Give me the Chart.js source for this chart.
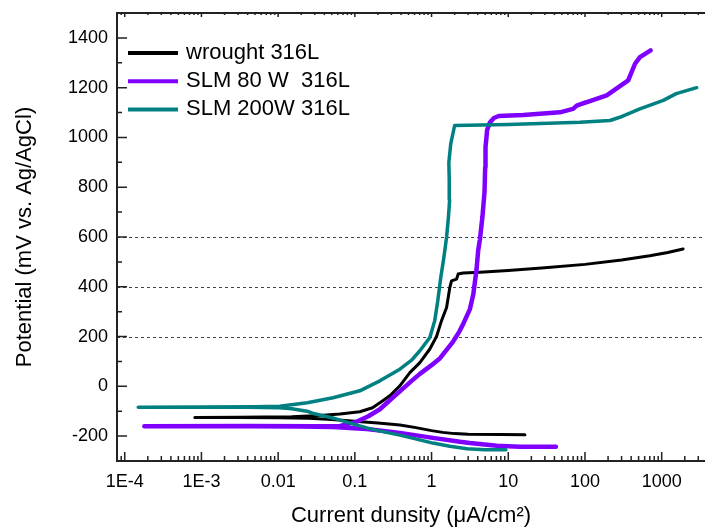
<!DOCTYPE html>
<html>
<head>
<meta charset="utf-8">
<script src="https://cdn.jsdelivr.net/npm/chart.js@4.4.1/dist/chart.umd.min.js"></script>
<style>
  html, body { margin: 0; padding: 0; background: #fff; }
  #wrap { width: 705px; height: 531px; }
</style>
</head>
<body>
<div id="wrap"><canvas id="chart" width="705" height="531"></canvas></div>
<script>
/* ── Data (current density µA/cm², potential mV) ───────────────────────── */
const WROUGHT_I = [16.5, 8, 3, 2, 1.4, 1.0, 0.6, 0.386, 0.2, 0.1, 0.05, 0.025, 0.01, 0.003, 8.2e-4,
                   0.003, 0.015, 0.035, 0.064, 0.116, 0.17, 0.212, 0.286, 0.386, 0.521, 0.704, 0.95,
                   1.16, 1.35, 1.57, 1.73, 1.82, 2.12, 2.22, 2.58, 4.27, 10, 30, 100, 300, 700, 1200, 1900];
const WROUGHT_E = [-195, -194, -193, -190, -185, -178, -165, -155, -147, -140, -133, -128, -126, -125, -125,
                   -124, -122, -117, -111, -102, -86, -66, -38, 2, 55, 95, 150,
                   200, 264, 317, 397, 424, 431, 451, 455, 458, 465, 476, 490, 508, 525, 538, 552];

const SLM80_I = [41.8, 14.2, 7.1, 3.16, 2.34, 1.04, 0.386, 0.143, 0.052, 0.019, 0.0043, 1.8e-4,
                 0.004, 0.03, 0.064, 0.1, 0.15, 0.212, 0.3, 0.386, 0.55, 0.704, 1.0, 1.29, 1.91, 2.3,
                 2.58, 3.16, 3.5, 3.86, 4.05, 4.27, 4.6, 4.9, 5.0, 5.05, 5.3, 5.76, 6.5, 7.5, 15.7, 47, 70,
                 78, 100, 88, 95, 192, 366, 449, 521, 718];
const SLM80_E = [-243, -243, -239, -228, -223, -207, -187, -171, -163, -161, -160, -160,
                 -159, -160, -159, -145, -120, -92, -50, -20, 22, 50, 85, 113, 180, 220,
                 250, 310, 370, 470, 545, 590, 680, 780, 880, 960, 1030, 1060, 1078, 1086, 1090, 1101, 1115,
                 1128, 1140, 1134, 1137, 1169, 1229, 1296, 1323, 1350];

const SLM200_I = [9.3, 5, 2.9, 1.73, 1.04, 0.6, 0.386, 0.2, 0.143, 0.08, 0.0516, 0.028, 0.0238, 0.015,
                  0.0105, 0.004, 1e-3, 1.5e-4,
                  1e-3, 0.005, 0.0105, 0.024, 0.052, 0.116, 0.212, 0.386, 0.55, 0.704, 0.95, 1.1, 1.2,
                  1.32, 1.45, 1.57, 1.66, 1.72, 1.7, 1.68, 1.78, 2.0, 10, 86, 212, 284, 520, 1050, 1550, 2860];
const SLM200_E = [-255, -255, -251, -241, -228, -210, -196, -178, -167, -145, -127, -108, -100, -90,
                  -86, -84, -84, -84,
                  -83, -82, -80, -66, -46, -18, 22, 69, 105, 143, 196, 264, 340,
                  438, 520, 600, 680, 750, 830, 900, 975, 1048, 1052, 1061, 1068, 1081, 1115, 1149, 1176, 1200];

const SERIES_LABELS = ['wrought 316L', 'SLM 80 W  316L', 'SLM 200W 316L'];
const SERIES_COLORS = ['#000000', '#7f00ff', '#008080'];
const SERIES_WIDTHS = [3, 4.5, 3.5];

const X_MIN = 7.93e-5;
const X_MAX = 3670;
const X_TICKS       = [1e-4, 1e-3, 0.01, 0.1, 1, 10, 100, 1000];
const X_TICK_LABELS = ['1E-4', '1E-3', '0.01', '0.1', '1', '10', '100', '1000'];

const Y_MIN = -300;
const Y_MAX = 1500;
const Y_TICKS = [-200, 0, 200, 400, 600, 800, 1000, 1200, 1400];
const GUIDE_LEVELS = [200, 400, 600];

const FONT = "'Liberation Sans', Arial, Helvetica, sans-serif";

/* ── Helpers ───────────────────────────────────────────────────────────── */
const zip = (xs, ys) => xs.map((x, k) => ({ x, y: ys[k] }));

// frame with inward ticks, dashed guides and the in-plot legend
const framePlugin = {
  id: 'frame',
  beforeDatasetsDraw(chart) {
    const { ctx, chartArea: a, scales: { y } } = chart;
    ctx.save();
    ctx.strokeStyle = '#444';
    ctx.lineWidth = 1;
    ctx.setLineDash([3, 3]);
    GUIDE_LEVELS.forEach(v => {
      const py = Math.round(y.getPixelForValue(v)) + 0.5;
      ctx.beginPath();
      ctx.moveTo(a.left, py);
      ctx.lineTo(a.right, py);
      ctx.stroke();
    });
    ctx.restore();
  },
  afterDatasetsDraw(chart) {
    const { ctx, chartArea: a, scales: { x, y } } = chart;
    ctx.save();
    ctx.strokeStyle = '#222';
    ctx.lineWidth = 1.5;
    ctx.beginPath();
    for (let d = -5; d <= 4; d++) {
      for (let m = 1; m <= 9; m++) {
        const v = m * Math.pow(10, d);
        if (v <= X_MIN || v >= X_MAX) continue;
        const px = x.getPixelForValue(v);
        const major = m === 1;
        ctx.moveTo(px, a.bottom);
        ctx.lineTo(px, a.bottom - (major ? 9 : 5));
        ctx.moveTo(px, a.top);
        ctx.lineTo(px, a.top + (major ? 4 : 2));
      }
    }
    for (let v = Y_MIN + 100; v < Y_MAX; v += 100) {
      const py = y.getPixelForValue(v);
      const major = Y_TICKS.includes(v);
      ctx.moveTo(a.left, py);
      ctx.lineTo(a.left + (major ? 10 : 5), py);
    }
    ctx.stroke();

    ctx.lineWidth = 2;
    ctx.beginPath();
    ctx.moveTo(a.right, a.top);
    ctx.lineTo(a.left, a.top);
    ctx.lineTo(a.left, a.bottom);
    ctx.lineTo(a.right, a.bottom);
    ctx.stroke();
    ctx.restore();
  },
  afterDraw(chart) {
    const { ctx, chartArea: a } = chart;
    ctx.save();
    ctx.font = `22px ${FONT}`;
    ctx.textBaseline = 'middle';
    ctx.fillStyle = '#000';
    chart.data.datasets.forEach((ds, k) => {
      const ly = a.top + 40 + k * 28.2;
      ctx.strokeStyle = ds.borderColor;
      ctx.lineWidth = 4;
      ctx.beginPath();
      ctx.moveTo(a.left + 11, ly);
      ctx.lineTo(a.left + 61, ly);
      ctx.stroke();
      ctx.fillText(ds.label, a.left + 69, ly);
    });
    ctx.restore();
  },
};

/* ── Chart ─────────────────────────────────────────────────────────────── */
const series = [zip(WROUGHT_I, WROUGHT_E), zip(SLM80_I, SLM80_E), zip(SLM200_I, SLM200_E)];

new Chart(document.getElementById('chart').getContext('2d'), {
  type: 'scatter',
  data: {
    datasets: series.map((data, k) => ({
      label: SERIES_LABELS[k],
      data,
      showLine: true,
      borderColor: SERIES_COLORS[k],
      backgroundColor: SERIES_COLORS[k],
      borderWidth: SERIES_WIDTHS[k],
      borderJoinStyle: 'round',
      borderCapStyle: 'round',
      pointRadius: 0,
      tension: 0,
      order: 3 - k,
    })),
  },
  options: {
    responsive: false,
    animation: false,
    devicePixelRatio: 1,
    layout: { padding: { top: 13, right: 0, bottom: 0, left: 0 } },
    plugins: { legend: { display: false }, tooltip: { enabled: false } },
    scales: {
      x: {
        type: 'logarithmic',
        min: X_MIN,
        max: X_MAX,
        grid: { display: false, drawTicks: false },
        border: { display: false },
        afterBuildTicks: s => { s.ticks = X_TICKS.map(v => ({ value: v })); },
        afterFit: s => { s.height = 70; s.paddingLeft = 0; s.paddingRight = 0; },
        ticks: {
          autoSkip: false, maxRotation: 0, padding: 10, color: '#000',
          font: { family: FONT, size: 18 },
          callback: (v, i) => X_TICK_LABELS[i],
        },
        title: {
          display: true, text: 'Current dunsity (μA/cm²)', color: '#000',
          font: { family: FONT, size: 22 }, padding: { top: 0, bottom: 2 },
        },
      },
      y: {
        min: Y_MIN,
        max: Y_MAX,
        grid: { display: false, drawTicks: false },
        border: { display: false },
        afterBuildTicks: s => { s.ticks = Y_TICKS.map(v => ({ value: v })); },
        afterFit: s => { s.width = 117; s.paddingTop = 0; s.paddingBottom = 0; },
        ticks: {
          padding: 9, color: '#000', font: { family: FONT, size: 18 },
          callback: v => String(v),
        },
        title: {
          display: true, text: 'Potential (mV vs. Ag/AgCl)', color: '#000',
          font: { family: FONT, size: 22 }, padding: { top: 12, bottom: 0 },
        },
      },
    },
  },
  plugins: [framePlugin],
});
</script>
</body>
</html>
